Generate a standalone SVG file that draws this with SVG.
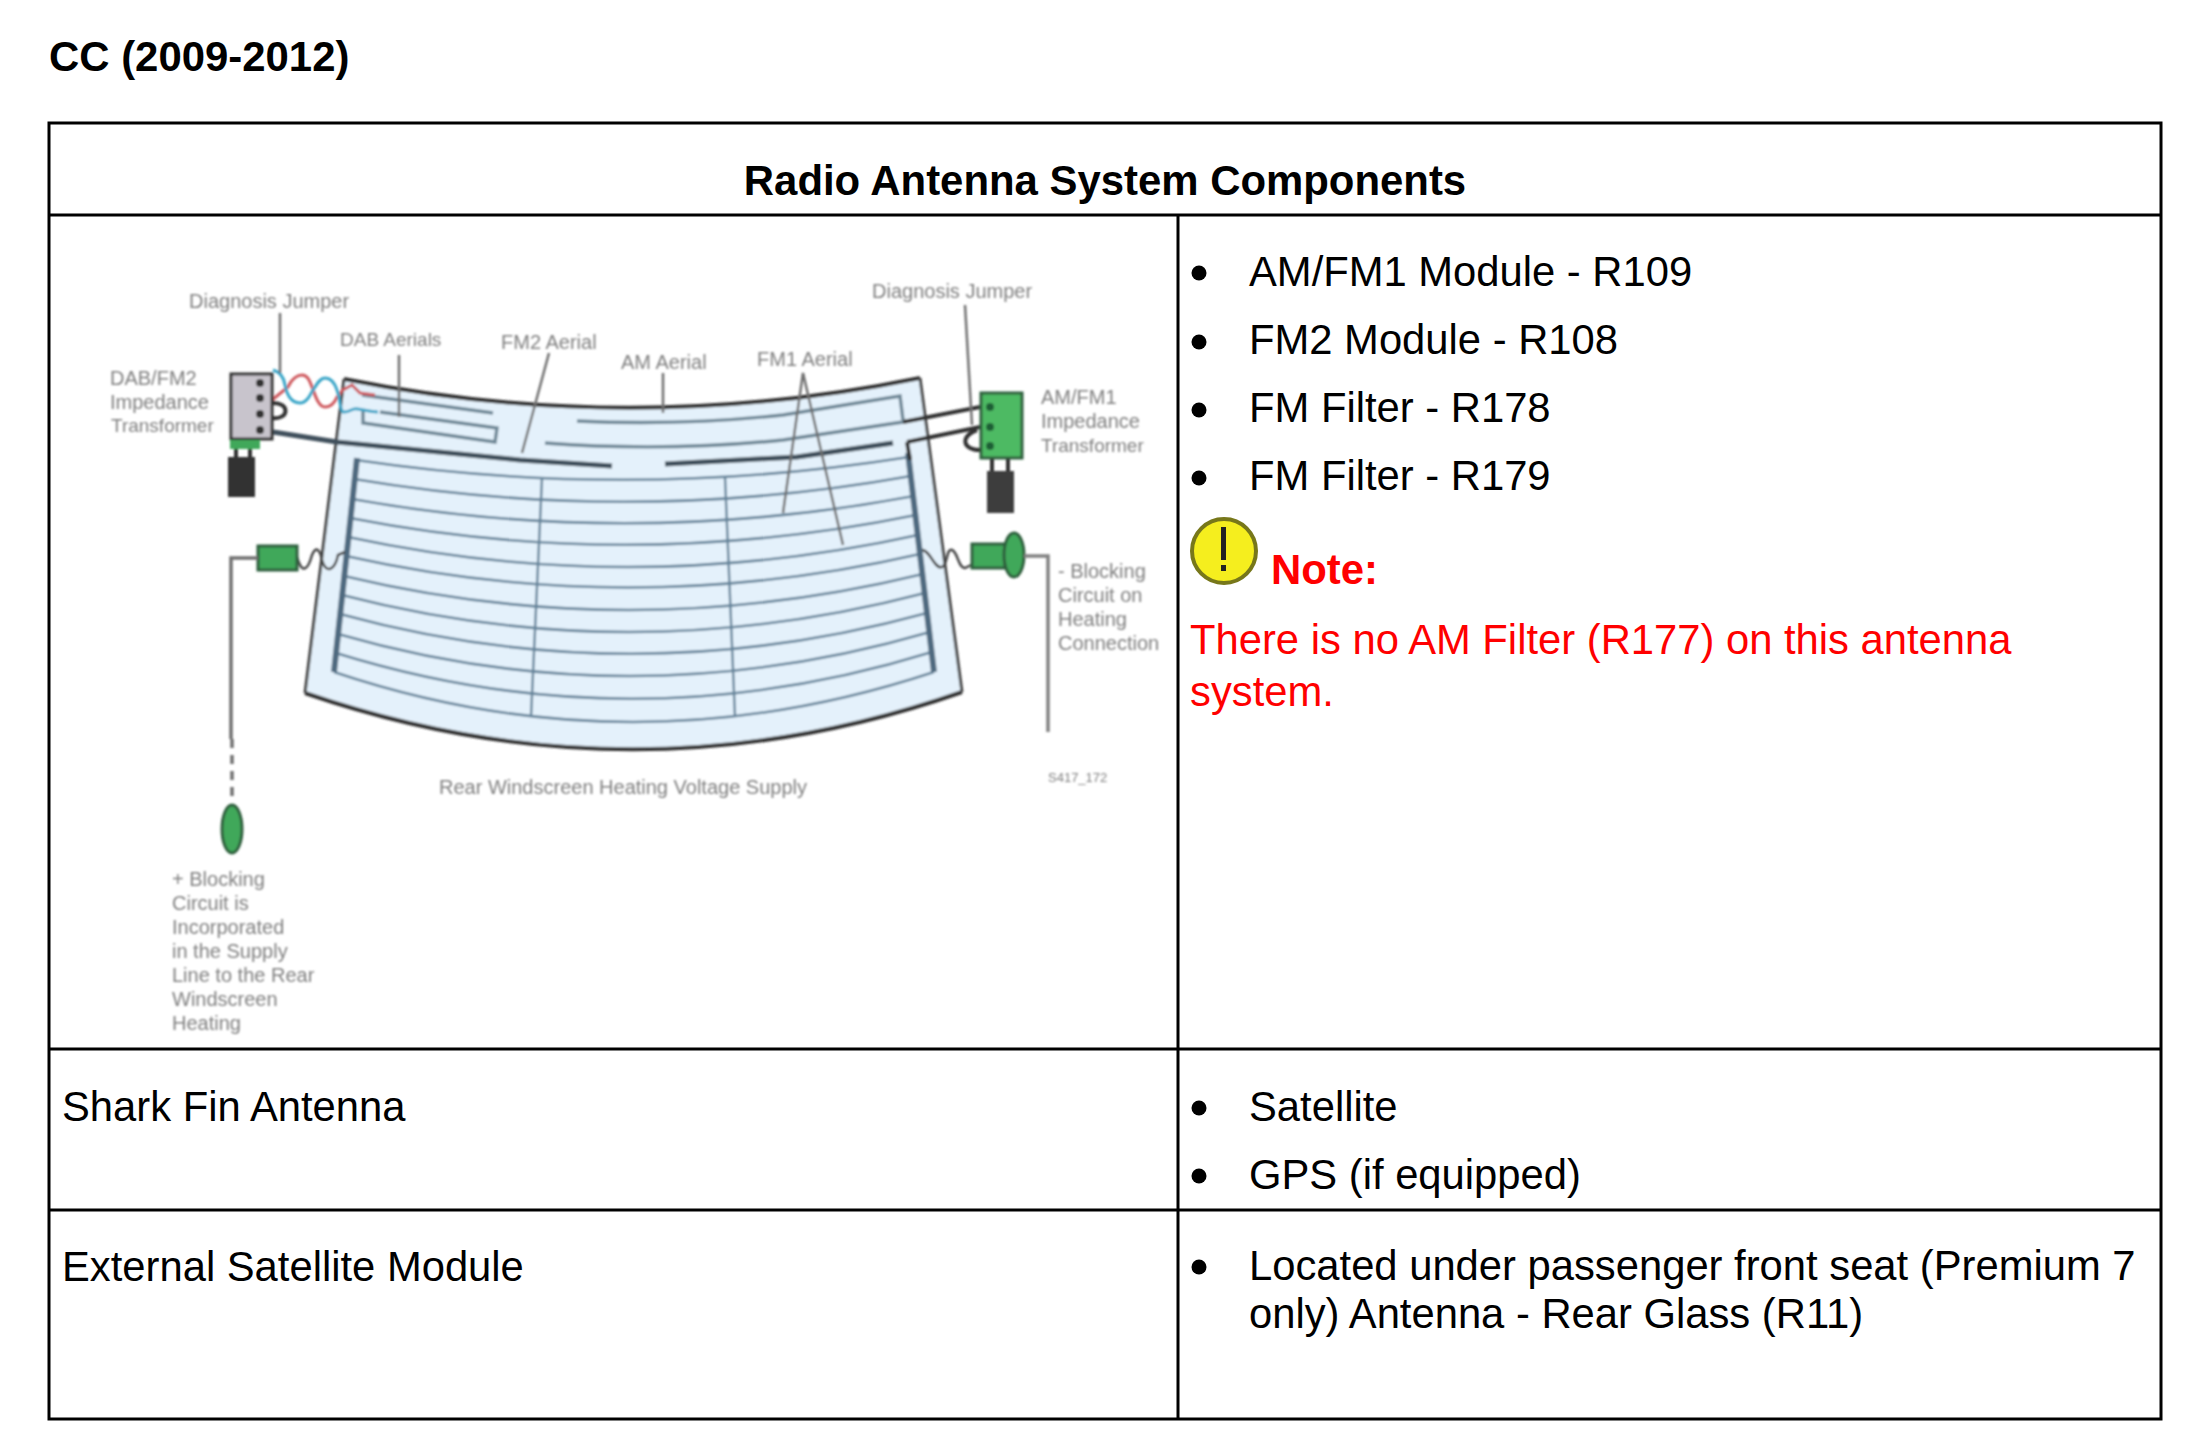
<svg xmlns="http://www.w3.org/2000/svg" width="2188" height="1455" viewBox="0 0 2188 1455">
<style>
text{font-family:"Liberation Sans",Arial,sans-serif;font-size:41.75px;fill:#000}
.b{font-weight:700;font-size:41.9px}
.r{fill:#f00}
.g{font-size:20px;fill:#808080}
.n{font-size:19px}
.tl{stroke:#000;stroke-width:3;fill:none}
.heat{stroke:#64839a;stroke-width:2.6;fill:none}
.bus{stroke:#4f6a80;stroke-width:6;fill:none}
.ae{stroke:#6e8796;stroke-width:3.4;fill:none}
.dk{stroke:#333;stroke-width:4;fill:none}
.ld{stroke:#707070;stroke-width:2.5;fill:none}
.thin{stroke:#64839a;stroke-width:2.4;fill:none}
.gr{fill:#3fa85a;stroke:#2f5f3c;stroke-width:3}
</style>
<defs>
<filter id="soft" x="-5%" y="-5%" width="110%" height="110%"><feGaussianBlur stdDeviation="0.9"/></filter>
<circle id="bu" r="7.5" fill="#000"/>
</defs>
<rect width="2188" height="1455" fill="#fff"/>
<text id="title" class="b" x="49" y="71">CC (2009-2012)</text>
<g id="table">
<rect class="tl" x="49" y="123" width="2112" height="1296"/>
<path class="tl" d="M49 215H2161M49 1049H2161M49 1210H2161M1178 215V1419"/>
<text class="b" x="1105" y="195" text-anchor="middle">Radio Antenna System Components</text>
</g>
<g id="diagram" filter="url(#soft)">
<g id="windscreen">
<path d="M344 379Q632 437 920 378L962 692Q635 806 305 693Z" fill="#e4f1fb"/>
<path class="dk" d="M305 693Q635 806 962 692M344 379Q632 437 920 378"/>
<path d="M344 379L305 693M920 378L962 692" stroke="#444" stroke-width="3" fill="none"/>
</g>
<g id="heater">
<path class="heat" d="M356 460Q632 501 909 457M354 479Q632 526 911 476M352 499Q632 549 914 496M350 518Q632 573 916 515M348 537Q632 598 918 535M346 556Q632 620 920 554M344 576Q632 645 923 574M342 595Q632 670 925 593M340 614Q632 694 927 613M338 634Q632 719 930 632M336 653Q632 745 932 652M334 672Q632 772 934 672"/>
<path class="thin" d="M542 478L531 717M725 477L735 717"/>
<path class="bus" d="M357 458L334 672M908 453L934 672"/>
</g>
<g id="aerials">
<path class="ae" d="M362 395L493 413M380 412L497 428L495 442L363 423V410"/>
<path class="ae" d="M577 421Q680 426 783 415L900 396L903 420"/>
<path class="ae" d="M545 443Q665 452 783 440L903 422"/>
<path d="M273 432L337 442L520 460L612 466" stroke="#3f505c" stroke-width="5" fill="none"/>
<path d="M665 464L797 457L893 443" stroke="#3f505c" stroke-width="5" fill="none"/>
<path class="dk" stroke-width="3" d="M903 422L980 407M907 442L980 427M907 442L910 460"/>
</g>
<g id="jumper-left">
<path d="M272 400L288 387C292 378 298 375 302 375C308 375 310 382 312 387C316 398 319 407 325 407C331 407 335 402 337 397L343 390L352 385L360 393L375 395" stroke="#cf5a5f" stroke-width="3" fill="none"/>
<path d="M273 370C280 372 284 378 285 385C286 392 290 403 300 403C307 403 310 395 313 390C317 384 320 378 325 378C332 378 335 384 337 390C340 398 340 410 343 412C350 413 352 407 358 409C365 410 370 412 378 412" stroke="#3aa6c8" stroke-width="3" fill="none"/>
<path class="dk" d="M272 403C290 402 290 420 272 418"/>
</g>
<g id="dab-fm2-transformer">
<rect x="231" y="374" width="41" height="65" fill="#c8c4cc" stroke="#333" stroke-width="3"/>
<g fill="#333"><circle cx="260" cy="383" r="4"/><circle cx="260" cy="398" r="4"/><circle cx="260" cy="414" r="4"/><circle cx="260" cy="430" r="4"/></g>
<rect x="230" y="440" width="30" height="9" fill="#3fa85a"/>
<path class="dk" d="M236 449V458M250 449V458"/>
<rect x="228" y="457" width="27" height="40" fill="#333"/>
</g>
<g id="am-fm1-transformer">
<rect x="981" y="393" width="41" height="65" fill="#4dba63" stroke="#2f5f3c" stroke-width="3"/>
<g fill="#1f5f35"><circle cx="990" cy="407" r="4"/><circle cx="990" cy="427" r="4"/><circle cx="990" cy="446" r="4"/></g>
<path class="dk" stroke-width="3" d="M977 430C960 436 962 450 980 450M992 459V471M1008 459V471"/>
<rect x="987" y="471" width="27" height="42" fill="#3d3d3d"/>
</g>
<g id="blocking-left">
<path d="M297 557C302 575 308 570 312 555C316 545 320 550 322 560C326 575 335 570 338 555L345 552" stroke="#444" stroke-width="2.5" fill="none"/>
<rect x="258" y="546" width="39" height="24" class="gr"/>
<path d="M258 558H231V739" stroke="#707070" stroke-width="3.5" fill="none"/>
<path d="M232 739V803" stroke="#707070" stroke-width="3.5" stroke-dasharray="9 7" fill="none"/>
<ellipse cx="232" cy="829" rx="10" ry="24" class="gr"/>
</g>
<g id="blocking-right">
<path d="M922 550C930 550 935 570 942 567C948 565 946 548 952 550C958 552 958 568 965 568L971 565" stroke="#444" stroke-width="2.5" fill="none"/>
<rect x="972" y="544" width="33" height="24" class="gr"/>
<ellipse cx="1014" cy="555" rx="10" ry="22" class="gr"/>
<path d="M1024 556H1048V732" stroke="#808080" stroke-width="3.5" fill="none"/>
</g>
<g id="leaders">
<path class="ld" d="M280 313V373M399 355V417M549 353L522 453M663 373V413M783 513L803 373L843 545M965 305L972 425"/>
</g>
<g id="diagram-labels">
<text class="g" x="189" y="308">Diagnosis Jumper</text>
<text class="g n" x="340" y="346">DAB Aerials</text>
<text class="g" x="501" y="349">FM2 Aerial</text>
<text class="g" x="621" y="369">AM Aerial</text>
<text class="g" x="757" y="366">FM1 Aerial</text>
<text class="g" x="872" y="298">Diagnosis Jumper</text>
<text class="g" x="110" y="385">DAB/FM2</text>
<text class="g" x="110" y="409">Impedance</text>
<text class="g n" x="111" y="432">Transformer</text>
<text class="g" x="1041" y="404">AM/FM1</text>
<text class="g" x="1041" y="428">Impedance</text>
<text class="g n" x="1041" y="452">Transformer</text>
<text class="g" x="1058" y="578">- Blocking</text>
<text class="g" x="1058" y="602">Circuit on</text>
<text class="g" x="1058" y="626">Heating</text>
<text class="g" x="1058" y="650">Connection</text>
<text class="g" x="439" y="794">Rear Windscreen Heating Voltage Supply</text>
<text class="g" style="font-size:13px" x="1048" y="782">S417_172</text>
<text class="g" x="172" y="886">+ Blocking</text>
<text class="g" x="172" y="910">Circuit is</text>
<text class="g" x="172" y="934">Incorporated</text>
<text class="g" x="172" y="958">in the Supply</text>
<text class="g" x="172" y="982">Line to the Rear</text>
<text class="g" x="172" y="1006">Windscreen</text>
<text class="g" x="172" y="1030">Heating</text>
</g>
</g>
<g id="components">
<use href="#bu" x="1199" y="273"/><text x="1249" y="286">AM/FM1 Module - R109</text>
<use href="#bu" x="1199" y="342"/><text x="1249" y="354">FM2 Module - R108</text>
<use href="#bu" x="1199" y="410"/><text x="1249" y="422">FM Filter - R178</text>
<use href="#bu" x="1199" y="478"/><text x="1249" y="490">FM Filter - R179</text>
</g>
<g id="note">
<circle cx="1224" cy="551" r="32" fill="#f5ee1e" stroke="#77771a" stroke-width="4"/>
<rect x="1221" y="527" width="5" height="33" fill="#222"/>
<rect x="1221" y="565" width="5" height="6" fill="#222"/>
<text class="b r" x="1271" y="584">Note:</text>
<text class="r" x="1190" y="654">There is no AM Filter (R177) on this antenna</text>
<text class="r" x="1190" y="706">system.</text>
</g>
<g id="shark-fin">
<text x="62" y="1121">Shark Fin Antenna</text>
<use href="#bu" x="1199" y="1108"/><text x="1249" y="1121">Satellite</text>
<use href="#bu" x="1199" y="1176"/><text x="1249" y="1189">GPS (if equipped)</text>
</g>
<g id="satellite-module">
<text x="62" y="1281">External Satellite Module</text>
<use href="#bu" x="1199" y="1267"/><text x="1249" y="1280">Located under passenger front seat (Premium 7</text>
<text x="1249" y="1328">only) Antenna - Rear Glass (R11)</text>
</g>
</svg>
